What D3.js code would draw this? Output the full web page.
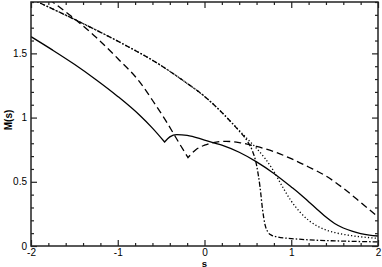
<!DOCTYPE html>
<html>
<head>
<meta charset="utf-8">
<script src="https://cdn.jsdelivr.net/npm/d3@7"></script>
<style>
  body { margin: 0; background: #fff; }
  svg { display: block; font-family: "Liberation Sans", Arial, Helvetica, sans-serif; }
</style>
</head>
<body>
<svg id="chart" width="382" height="267"></svg>
<script>
// values
const xTicks = [-2, -1, 0, 1, 2];
const yTicks = [0, 0.5, 1, 1.5];

// each curve: s values, M values, and the index of a sharp cusp (-1 if none)
const solidS = [-2.0, -1.75, -1.5, -1.25, -1.0, -0.75, -0.6, -0.46, -0.4, -0.32, -0.2, 0, 0.2, 0.4, 0.6, 0.8, 1.0, 1.1, 1.2, 1.3, 1.4, 1.5, 1.6, 1.7, 1.8, 1.9, 2.0];
const solidM = [1.63, 1.525, 1.415, 1.295, 1.165, 1.02, 0.918, 0.81, 0.85, 0.868, 0.862, 0.825, 0.785, 0.73, 0.655, 0.565, 0.46, 0.405, 0.345, 0.285, 0.225, 0.175, 0.14, 0.115, 0.097, 0.085, 0.078];
const solidCusp = 7;

const dashS = [-2.0, -1.75, -1.5, -1.25, -1.0, -0.75, -0.6, -0.45, -0.3, -0.19, -0.1, 0, 0.1, 0.25, 0.4, 0.6, 0.8, 1.0, 1.2, 1.4, 1.6, 1.8, 2.0];
const dashM = [2.02, 1.9, 1.77, 1.625, 1.46, 1.28, 1.135, 0.98, 0.81, 0.688, 0.75, 0.785, 0.805, 0.815, 0.805, 0.775, 0.735, 0.68, 0.615, 0.545, 0.45, 0.34, 0.226];
const dashCusp = 9;

const dashDotS = [-2.0, -1.5, -1.0, -0.5, -0.25, 0, 0.1, 0.2, 0.3, 0.4, 0.5, 0.55, 0.6, 0.64, 0.67, 0.7, 0.73, 0.77, 0.85, 1.0, 1.2, 1.5, 2.0];
const dashDotM = [1.925, 1.765, 1.595, 1.405, 1.29, 1.165, 1.105, 1.04, 0.97, 0.895, 0.81, 0.745, 0.63, 0.46, 0.28, 0.16, 0.11, 0.085, 0.07, 0.058, 0.048, 0.04, 0.032];

const dotS = [-2.0, -1.5, -1.0, -0.5, -0.25, 0, 0.1, 0.2, 0.3, 0.4, 0.5, 0.6, 0.7, 0.8, 0.9, 1.0, 1.1, 1.2, 1.3, 1.4, 1.5, 1.7, 2.0];
const dotM = [1.925, 1.765, 1.595, 1.405, 1.29, 1.165, 1.105, 1.04, 0.97, 0.9, 0.83, 0.76, 0.68, 0.58, 0.46, 0.35, 0.265, 0.2, 0.155, 0.125, 0.105, 0.08, 0.06];

const svg = d3.select("#chart");
const margin = { top: 2, right: 4, bottom: 21, left: 31 };
const width = 382 - margin.left - margin.right;
const height = 267 - margin.top - margin.bottom;

const x = d3.scaleLinear().domain([-2, 2]).range([0, width]);
const y = d3.scaleLinear().domain([0, 1.9]).range([height, 0]);

const g = svg.append("g").attr("transform", `translate(${margin.left},${margin.top})`);

g.append("clipPath").attr("id", "clip")
  .append("rect").attr("width", width).attr("height", height);

const curves = [
  { s: solidS, m: solidM, cusp: solidCusp, dash: null },
  { s: dashS, m: dashM, cusp: dashCusp, dash: "7,4" },
  { s: dashDotS, m: dashDotM, cusp: -1, dash: "5,2,1.5,2" },
  { s: dotS, m: dotM, cusp: -1, dash: "1.2,2.2" }
];

const line = d3.line().x(d => x(d[0])).y(d => y(d[1])).curve(d3.curveMonotoneX);

curves.forEach(c => {
  const pts = c.s.map((v, i) => [v, c.m[i]]);
  // split at the cusp so the smooth curve keeps the sharp corner
  const parts = c.cusp > 0 ? [pts.slice(0, c.cusp + 1), pts.slice(c.cusp)] : [pts];
  const d = parts.map(p => line(p)).join("").replace(/M/g, (m, off) => off === 0 ? "M" : "L");
  g.append("path")
    .attr("clip-path", "url(#clip)")
    .attr("fill", "none")
    .attr("stroke", "#000")
    .attr("stroke-width", 1.3)
    .attr("stroke-dasharray", c.dash)
    .attr("d", d);
});

// minor tick positions
const xMinor = d3.range(-2, 2.001, 0.2).filter(v => Math.abs(v - Math.round(v)) > 1e-6);
const yMinor = d3.range(0, 1.901, 0.1).filter(v => Math.abs(v * 2 - Math.round(v * 2)) > 1e-6);

function styleAxis(sel) {
  sel.select(".domain").remove();
  sel.selectAll(".tick line").attr("stroke", "#222").attr("stroke-width", 1.2);
  sel.selectAll("text").attr("fill", "#000").style("font-size", "10px");
}

// bottom
g.append("g").attr("transform", `translate(0,${height})`)
  .call(d3.axisBottom(x).tickValues(xTicks).tickFormat(d => String(d)).tickSizeInner(-6).tickSizeOuter(0).tickPadding(3))
  .call(styleAxis);
g.append("g").attr("transform", `translate(0,${height})`)
  .call(d3.axisBottom(x).tickValues(xMinor).tickFormat("").tickSizeInner(-3).tickSizeOuter(0))
  .call(styleAxis);
// top
g.append("g")
  .call(d3.axisTop(x).tickValues(xTicks).tickFormat("").tickSizeInner(-6).tickSizeOuter(0))
  .call(styleAxis);
g.append("g")
  .call(d3.axisTop(x).tickValues(xMinor).tickFormat("").tickSizeInner(-3).tickSizeOuter(0))
  .call(styleAxis);
// left
g.append("g")
  .call(d3.axisLeft(y).tickValues(yTicks).tickFormat(d => String(d)).tickSizeInner(-6).tickSizeOuter(0).tickPadding(4))
  .call(styleAxis);
g.append("g")
  .call(d3.axisLeft(y).tickValues(yMinor).tickFormat("").tickSizeInner(-3).tickSizeOuter(0))
  .call(styleAxis);
// right
g.append("g").attr("transform", `translate(${width},0)`)
  .call(d3.axisRight(y).tickValues(yTicks).tickFormat("").tickSizeInner(-6).tickSizeOuter(0))
  .call(styleAxis);
g.append("g").attr("transform", `translate(${width},0)`)
  .call(d3.axisRight(y).tickValues(yMinor).tickFormat("").tickSizeInner(-3).tickSizeOuter(0))
  .call(styleAxis);

// frame
g.append("rect")
  .attr("width", width).attr("height", height)
  .attr("fill", "none").attr("stroke", "#222").attr("stroke-width", 1.5);

// axis titles
svg.append("text")
  .attr("x", margin.left + width / 2).attr("y", 266.5)
  .attr("text-anchor", "middle")
  .style("font-size", "9.5px").style("font-weight", "bold")
  .text("s");

svg.append("text")
  .attr("transform", `translate(12,${margin.top + height / 2 - 4}) rotate(-90)`)
  .attr("text-anchor", "middle")
  .style("font-size", "10px").style("font-weight", "bold")
  .text("M(s)");
</script>
</body>
</html>
